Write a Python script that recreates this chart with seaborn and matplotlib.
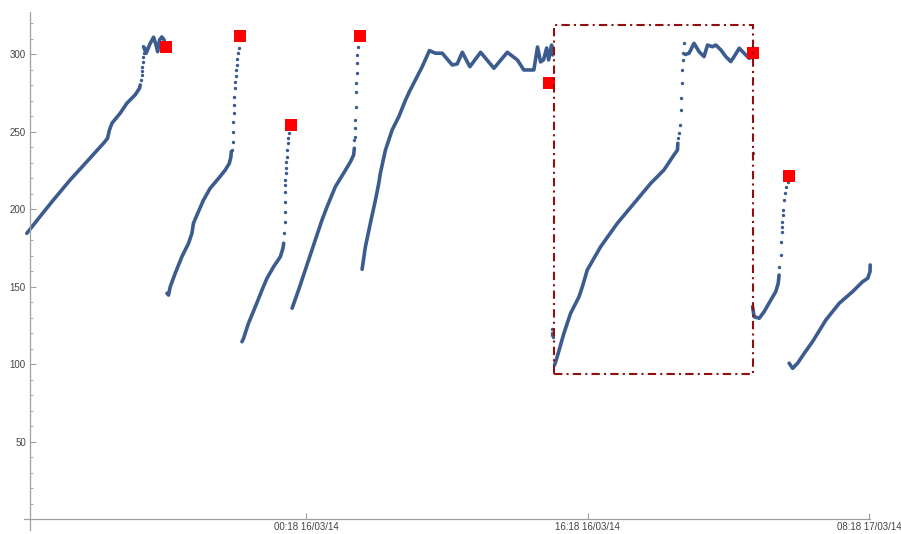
import pandas as pd
import matplotlib
matplotlib.use("Agg")
import matplotlib.pyplot as plt
import matplotlib.dates as mdates
from matplotlib.patches import Rectangle
from matplotlib.ticker import FixedLocator
import seaborn as sns

# Readings: hours after the first sample, and the measured value
start = pd.Timestamp("2014-03-15 08:18")

seg1a_h = [0.10, 0.85, 1.61, 2.56, 3.51, 4.46, 4.69, 4.80, 4.94, 5.41, 5.79, 6.26, 6.51, 6.55]
seg1a_v = [184.6, 195.4, 206.1, 219.0, 230.8, 242.7, 245.9, 251.3, 255.6, 262.1, 268.5,
           273.9, 278.2, 280.3]
jump1_h = [6.62, 6.64, 6.66, 6.68, 6.70, 6.72, 6.76, 6.80]
jump1_v = [283.5, 286.8, 289.4, 292.1, 295.4, 298.6, 300.8, 304.0]
seg1b_h = [6.74, 6.89, 7.12, 7.31, 7.45, 7.54, 7.65, 7.78, 7.91, 7.97]
seg1b_v = [305.0, 300.8, 307.2, 311.1, 306.1, 301.8, 309.4, 311.3, 309.4, 305.0]

seg2_h = [8.07, 8.16, 8.26, 8.54, 8.92, 9.30, 9.49, 9.58, 9.78, 10.15, 10.53, 11.01,
          11.39, 11.62, 11.71, 11.73]
seg2_v = [145.9, 144.8, 150.2, 158.8, 169.5, 178.2, 184.6, 191.1, 196.5, 206.1, 213.7,
          220.1, 225.5, 229.8, 234.1, 237.3]
jump2_h = [11.79, 11.81, 11.83, 11.85, 11.87, 11.89, 11.91, 11.93, 11.95, 11.98, 12.01,
           12.04, 12.08, 12.12, 12.16]
jump2_v = [238.4, 243.8, 250.2, 256.6, 262.1, 267.4, 272.8, 278.2, 282.5, 286.1, 290.0,
           293.2, 296.9, 300.8, 304.0]

seg3_h = [12.34, 12.43, 12.71, 13.10, 13.48, 13.76, 14.14, 14.52, 14.67, 14.71]
seg3_v = [114.7, 116.9, 126.6, 137.3, 148.1, 155.6, 163.1, 169.5, 175.0, 178.2]
jump3_h = [14.75, 14.76, 14.77, 14.78, 14.79, 14.80, 14.81, 14.82, 14.84, 14.86, 14.88,
           14.90, 14.94, 14.98, 15.03]
jump3_v = [184.6, 192.1, 198.6, 205.0, 211.5, 215.8, 219.0, 223.4, 226.6, 230.8, 234.1,
           238.4, 242.7, 245.9, 249.2]

seg4_h = [15.19, 15.56, 15.94, 16.32, 16.70, 16.89, 17.18, 17.65, 18.12, 18.51, 18.69, 18.73]
seg4_v = [136.3, 148.1, 161.0, 173.9, 186.8, 193.2, 201.8, 214.7, 223.4, 230.8, 235.2, 239.5]
jump4_h = [18.73, 18.74, 18.76, 18.78, 18.80, 18.82, 18.84, 18.86, 18.88, 18.89, 18.91]
jump4_v = [244.8, 247.0, 252.4, 257.7, 266.3, 276.0, 281.4, 287.9, 294.3, 299.7, 305.0]

seg5_h = [19.17, 19.36, 19.64, 19.93, 20.12, 20.21, 20.50, 20.88, 21.26, 21.64, 21.86,
          22.20, 22.59, 23.00, 23.34, 23.73, 24.30, 24.58, 24.87, 25.30, 25.91, 26.67,
          27.43, 28.00, 28.37, 28.94, 29.15, 29.32, 29.49, 29.67, 29.78, 29.95, 30.01]
seg5_v = [161.4, 176.0, 191.1, 206.1, 216.9, 223.4, 238.4, 251.3, 259.9, 270.6, 276.0,
          283.5, 292.1, 302.5, 300.8, 300.8, 293.2, 293.9, 301.4, 292.1, 301.4, 291.1,
          301.4, 296.5, 290.0, 290.0, 304.8, 295.2, 296.5, 304.2, 296.5, 306.1, 299.7]
stray_h = [29.97, 30.00, 30.01, 29.99]
stray_v = [122.9, 120.3, 117.7, 119.0]

seg6a_h = [30.12, 30.27, 30.65, 31.03, 31.51, 31.70, 31.98, 32.74, 33.69, 34.64, 35.59,
           36.34, 36.91, 37.11, 37.13]
seg6a_v = [99.7, 105.0, 120.1, 133.0, 143.7, 150.2, 161.0, 176.0, 191.1, 204.0, 216.9,
           225.5, 235.2, 238.4, 242.7]
jump6_h = [37.16, 37.20, 37.26, 37.29, 37.31, 37.35, 37.39, 37.41, 37.45, 37.49]
jump6_v = [246.0, 249.2, 254.5, 264.2, 271.7, 281.4, 290.0, 296.5, 300.8, 307.2]
seg6b_h = [37.55, 37.77, 38.05, 38.34, 38.62, 38.82, 39.10, 39.29, 39.58, 39.86, 40.14,
           40.33, 40.62, 40.90, 41.19, 41.34]
seg6b_v = [300.0, 300.8, 307.2, 301.8, 298.6, 306.1, 305.0, 306.1, 302.9, 298.6, 295.4,
           298.6, 304.0, 300.8, 297.5, 298.4]
lone_h = [41.38]
lone_v = [236.3]

seg7_h = [41.38, 41.47, 41.76, 42.04, 42.42, 42.70, 42.84, 42.89]
seg7_v = [137.3, 130.8, 129.8, 134.1, 141.6, 147.0, 152.4, 157.7]
jump7_h = [42.89, 42.99, 42.99, 43.03, 43.05, 43.05, 43.09, 43.12, 43.18, 43.23, 43.31, 43.37]
jump7_v = [163.1, 170.6, 179.2, 185.7, 188.9, 192.1, 196.5, 199.7, 206.1, 210.5, 214.7, 217.9]

seg8_h = [43.46, 43.66, 43.94, 44.32, 44.79, 45.55, 46.31, 47.07, 47.64, 47.93, 48.06, 48.07]
seg8_v = [100.8, 97.5, 100.8, 107.2, 114.7, 128.7, 139.5, 147.0, 153.4, 155.6, 159.9, 164.2]

# Cycle end markers
peak_h = [8.03, 12.20, 15.15, 19.07, 29.80, 41.38, 43.43]
peak_v = [304.6, 311.9, 254.5, 311.9, 281.4, 300.8, 221.6]

# Highlighted cycle (hours, value range)
box_h = (30.07, 41.41)
box_v = (94.0, 319.0)

tick_h = [16, 32, 48]


def to_time(hours):
    return start + pd.to_timedelta(hours, unit="h")


dense_runs = [(seg1a_h, seg1a_v), (seg1b_h, seg1b_v), (seg2_h, seg2_v), (seg3_h, seg3_v),
              (seg4_h, seg4_v), (seg5_h, seg5_v), (seg6a_h, seg6a_v), (seg6b_h, seg6b_v),
              (seg7_h, seg7_v), (seg8_h, seg8_v)]
sparse_runs = [(jump1_h, jump1_v), (jump2_h, jump2_v), (jump3_h, jump3_v), (jump4_h, jump4_v),
               (stray_h, stray_v), (jump6_h, jump6_v), (lone_h, lone_v), (jump7_h, jump7_v)]

dense = pd.concat([pd.DataFrame({"time": to_time(h), "value": v, "run": i})
                   for i, (h, v) in enumerate(dense_runs)], ignore_index=True)
sparse = pd.concat([pd.DataFrame({"time": to_time(h), "value": v})
                    for h, v in sparse_runs], ignore_index=True)
peaks = pd.DataFrame({"time": to_time(peak_h), "value": peak_v})

sns.set_theme(style="white")
plt.rcParams["font.family"] = ["Liberation Sans", "DejaVu Sans"]

W, H = 901, 534
fig = plt.figure(figsize=(W / 100, H / 100), dpi=100)
ax = fig.add_axes([24 / W, 4 / H, (870 - 24) / W, (530 - 12) / H])

blue = "#3C5B8E"
sns.lineplot(data=dense, x="time", y="value", units="run", estimator=None, sort=False,
             color=blue, linewidth=2.6, solid_capstyle="round", solid_joinstyle="round",
             ax=ax, legend=False, clip_on=False)
sns.scatterplot(data=sparse, x="time", y="value", color=blue, s=6, linewidth=0,
                ax=ax, legend=False, zorder=3)
sns.scatterplot(data=peaks, x="time", y="value", color="#FF0000", marker="s", s=85,
                linewidth=0, ax=ax, legend=False, zorder=4)

x0 = mdates.date2num(to_time(box_h[0]))
x1 = mdates.date2num(to_time(box_h[1]))
ax.add_patch(Rectangle((x0, box_v[0]), x1 - x0, box_v[1] - box_v[0], fill=False,
                       edgecolor="#930F0F", linewidth=1.5, linestyle=(0, (4, 2, 1, 2)),
                       zorder=5))

ax.set_xlim(mdates.date2num(to_time(-0.06)), mdates.date2num(to_time(48.06)))
ax.set_ylim(-6.8, 327.4)
ax.set_xlabel("")
ax.set_ylabel("")

for side in ("top", "right"):
    ax.spines[side].set_visible(False)
ax.spines["left"].set_position(("data", mdates.date2num(to_time(0.285))))
ax.spines["bottom"].set_position(("data", 0))
for side in ("left", "bottom"):
    ax.spines[side].set_color("#A0A0A0")
    ax.spines[side].set_linewidth(0.9)

ax.yaxis.set_major_locator(FixedLocator([50, 100, 150, 200, 250, 300]))
ax.yaxis.set_minor_locator(FixedLocator([v for v in range(10, 330, 10) if v % 50]))
ax.xaxis.set_major_locator(FixedLocator([mdates.date2num(to_time(h)) for h in tick_h]))
ax.xaxis.set_major_formatter(mdates.DateFormatter("%H:%M %d/%m/%y"))

ax.tick_params(axis="both", which="both", left=True, bottom=True)
ax.tick_params(axis="both", which="major", direction="in", length=4, width=0.8,
               color="#A0A0A0", labelsize=7, labelcolor="#444444", pad=3)
ax.tick_params(axis="y", which="minor", direction="in", length=2, width=0.6, color="#A0A0A0")
ax.tick_params(axis="x", which="major", pad=2)

fig.savefig("out.png", dpi=100)
